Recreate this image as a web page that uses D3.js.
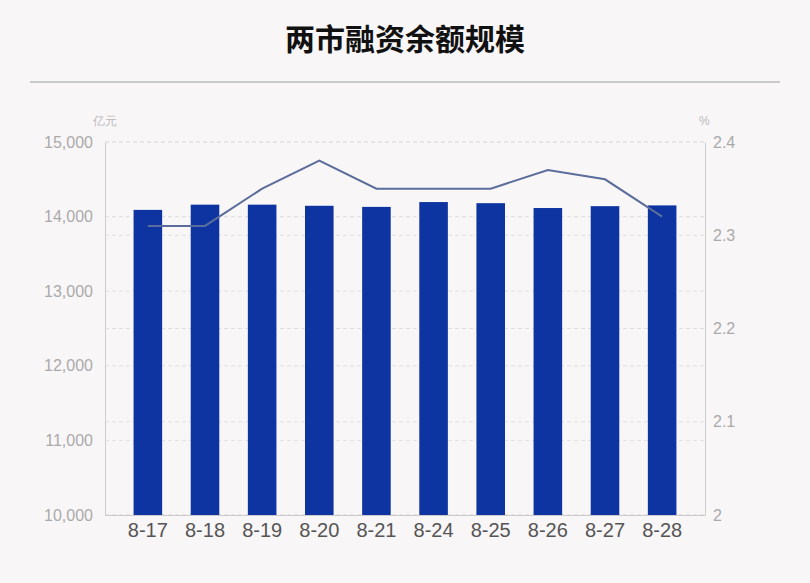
<!DOCTYPE html>
<html><head><meta charset="utf-8">
<script src="https://d3js.org/d3.v7.min.js"></script>
<style>body{margin:0;background:#f9f6f8;font-family:"Liberation Sans",Arial,sans-serif}</style>
</head><body><div id="chart"></div>
<script>
var dates = ["8-17","8-18","8-19","8-20","8-21","8-24","8-25","8-26","8-27","8-28"];
var balance = [14090,14160,14160,14145,14130,14195,14180,14115,14140,14150];
var ratio = [2.31,2.31,2.35,2.38,2.35,2.35,2.35,2.37,2.36,2.32];
var leftTicks = [10000,11000,12000,13000,14000,15000];
var rightTicks = [2,2.1,2.2,2.3,2.4];

var W = 810, H = 583;
var margin = {left:105, right:105, top:142, bottom:68};
var svg = d3.select("#chart").append("svg").attr("width", W).attr("height", H);

svg.append("text").attr("x", W/2).attr("y", 50).attr("text-anchor", "middle")
    .attr("font-size", "30px").attr("font-weight", "bold").attr("fill", "#111")
    .attr("font-family", "Noto Sans CJK SC").text("两市融资余额规模");
svg.append("line").attr("x1", 30).attr("x2", 780).attr("y1", 82).attr("y2", 82)
    .attr("stroke", "#bbb").attr("stroke-width", 1.5);

var x = d3.scaleBand().domain(dates).range([margin.left, W - margin.right]).padding(0.5);
var yL = d3.scaleLinear().domain([10000,15000]).range([H - margin.bottom, margin.top]);
var yR = d3.scaleLinear().domain([2,2.4]).range([H - margin.bottom, margin.top]);

// grid lines for both axes
leftTicks.forEach(function(t){
    svg.append("line").attr("x1", margin.left).attr("x2", W - margin.right)
        .attr("y1", yL(t)).attr("y2", yL(t)).attr("stroke", "#e2dfe1").attr("stroke-dasharray", "4,3");
});
rightTicks.forEach(function(t){
    svg.append("line").attr("x1", margin.left).attr("x2", W - margin.right)
        .attr("y1", yR(t)).attr("y2", yR(t)).attr("stroke", "#e2dfe1").attr("stroke-dasharray", "4,3");
});

var axL = svg.append("g").attr("transform", "translate(" + margin.left + ",0)")
    .call(d3.axisLeft(yL).tickValues(leftTicks).tickSize(0).tickPadding(12).tickFormat(d3.format(",")));
var axR = svg.append("g").attr("transform", "translate(" + (W - margin.right) + ",0)")
    .call(d3.axisRight(yR).tickValues(rightTicks).tickSize(0).tickPadding(8).tickFormat(d3.format("")));
var axB = svg.append("g").attr("transform", "translate(0," + (H - margin.bottom) + ")")
    .call(d3.axisBottom(x).tickSize(0).tickPadding(8));
[axL, axR, axB].forEach(function(a){
    a.select(".domain").attr("stroke", "#ccc");
    a.selectAll("text").attr("fill", "#aaa").attr("font-size", "16px").attr("font-family", "Liberation Sans");
});
axB.selectAll("text").attr("fill", "#555").attr("font-size", "20px");

svg.append("text").attr("x", 93).attr("y", 125).attr("font-size", "12px").attr("fill", "#bbb").text("亿元");
svg.append("text").attr("x", 699).attr("y", 125).attr("font-size", "12px").attr("fill", "#bbb").text("%");

svg.selectAll(".bar").data(balance).enter().append("rect")
    .attr("x", function(d, i){ return x(dates[i]); })
    .attr("width", x.bandwidth())
    .attr("y", function(d){ return yL(d); })
    .attr("height", function(d){ return yL(10000) - yL(d); })
    .attr("fill", "#0d34a0");

var line = d3.line().x(function(d, i){ return x(dates[i]) + x.bandwidth()/2; }).y(function(d){ return yR(d); });
svg.append("path").datum(ratio).attr("d", line).attr("fill", "none")
    .attr("stroke", "#5a6d9b").attr("stroke-width", 2);
</script></body></html>
